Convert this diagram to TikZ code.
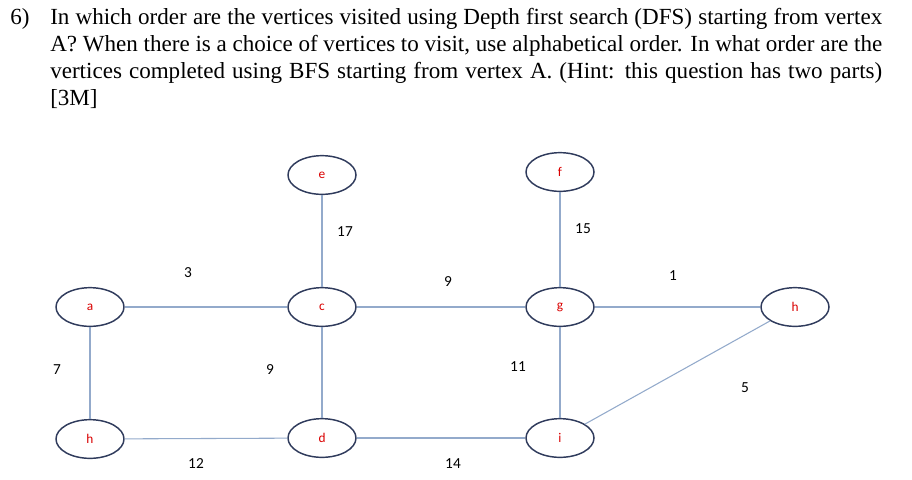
\documentclass[tikz,border=0pt]{standalone}
\usepackage{fontspec}
\usetikzlibrary{shapes.geometric}
\setmainfont{Liberation Serif}
\newfontfamily\calib{Carlito}
\definecolor{vline}{HTML}{2F3B5C}
\definecolor{eline}{HTML}{93AACB}
\begin{document}
\begin{tikzpicture}[x=0.75pt,y=-0.75pt,
  vtx/.style={draw=vline,line width=1.1pt,ellipse,minimum width=51pt,minimum height=29pt,inner sep=0pt,font=\calib\fontsize{10}{10}\selectfont,text=red!85!black},
  edge/.style={draw=eline,line width=0.8pt},
  wt/.style={font=\calib\fontsize{11.5}{11.5}\selectfont}]
\useasboundingbox (0,0) rectangle (912,479);
\node[anchor=north west,inner sep=0pt] (num) at (10,8) {\fontsize{17.3}{20.3}\selectfont 6)};
\node[anchor=north west,inner sep=0pt,text width=624pt,align=justify] (q) at (50,8)
 {\fontsize{17.3}{20.3}\selectfont In which order are the vertices visited using Depth first search (DFS) starting from vertex A? When there is a choice of vertices to visit, use alphabetical order. In what order are the vertices completed using BFS starting from vertex A. (Hint: this question has two parts)\hfill[3M]\hspace*{40pt}\par};
\node[vtx] (a) at (90,307) {a};
\node[vtx] (b) at (90,439) {h};
\node[vtx] (c) at (322,307) {c};
\node[vtx] (d) at (322,438) {d};
\node[vtx] (e) at (322,175) {e};
\node[vtx] (f) at (560,172) {f};
\node[vtx] (g) at (560,307) {g};
\node[vtx] (i) at (560,438) {i};
\node[vtx] (h) at (795,307) {h};
\draw[edge] (a)--(c); \draw[edge] (c)--(g); \draw[edge] (g)--(h);
\draw[edge] (e)--(c); \draw[edge] (f)--(g);
\draw[edge] (a)--(b); \draw[edge] (c)--(d); \draw[edge] (g)--(i);
\draw[edge] (b)--(d); \draw[edge] (d)--(i); \draw[edge] (i)--(h);
\node[wt] (w1) at (188,273) {3};
\node[wt] (w2) at (345,232) {17};
\node[wt] (w3) at (448,282) {9};
\node[wt] (w4) at (583,229) {15};
\node[wt] (w5) at (673,276) {1};
\node[wt] (w6) at (57,370) {7};
\node[wt] (w7) at (270,370) {9};
\node[wt] (w8) at (518,367) {11};
\node[wt] (w9) at (745,388) {5};
\node[wt] (w10) at (196,464) {12};
\node[wt] (w11) at (453,464) {14};
\end{tikzpicture}
\end{document}
